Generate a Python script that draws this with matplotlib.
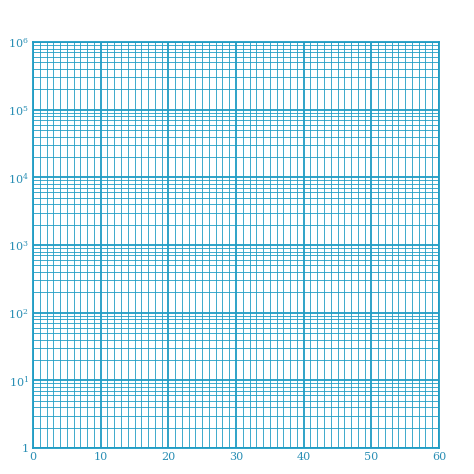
import matplotlib
matplotlib.use("Agg")
import matplotlib.pyplot as plt
from matplotlib.ticker import MultipleLocator, LogLocator, FixedLocator
import numpy as np

x_range = [0, 60]
y_range = [1, 1e6]
x_ticks = [0, 10, 20, 30, 40, 50, 60]
y_ticks = [1, 10, 100, 1000, 10000, 100000, 1000000]
y_labels = ["1", "$10^1$", "$10^2$", "$10^3$", "$10^4$", "$10^5$", "$10^6$"]

color = "#1f9cc4"
plt.rcParams["font.family"] = ["DejaVu Serif"]
plt.rcParams["mathtext.fontset"] = "dejavuserif"

fig = plt.figure(figsize=(4.74, 4.74), dpi=100)
ax = fig.add_axes([33 / 474, 26 / 474, 406 / 474, 406 / 474])
ax.set_yscale("log")
ax.set_xlim(*x_range)
ax.set_ylim(*y_range)
ax.set_xticks(x_ticks)
ax.set_yticks(y_ticks)
ax.set_yticklabels(y_labels)
ax.xaxis.set_minor_locator(MultipleLocator(1))
ax.yaxis.set_minor_locator(LogLocator(base=10, subs=np.arange(2, 10)))
ax.yaxis.set_minor_formatter(plt.NullFormatter())
ax.grid(which="major", color=color, linewidth=1.3)
ax.grid(which="minor", color=color, linewidth=0.6)
ax.tick_params(which="both", length=0, colors=color, labelsize=8, pad=3)
for s in ax.spines.values():
    s.set_color(color)
    s.set_linewidth(1.3)
for lab in ax.get_xticklabels() + ax.get_yticklabels():
    lab.set_color("#2a8fb5")
ax.set_axisbelow(True)

fig.savefig("out.png", dpi=100)
